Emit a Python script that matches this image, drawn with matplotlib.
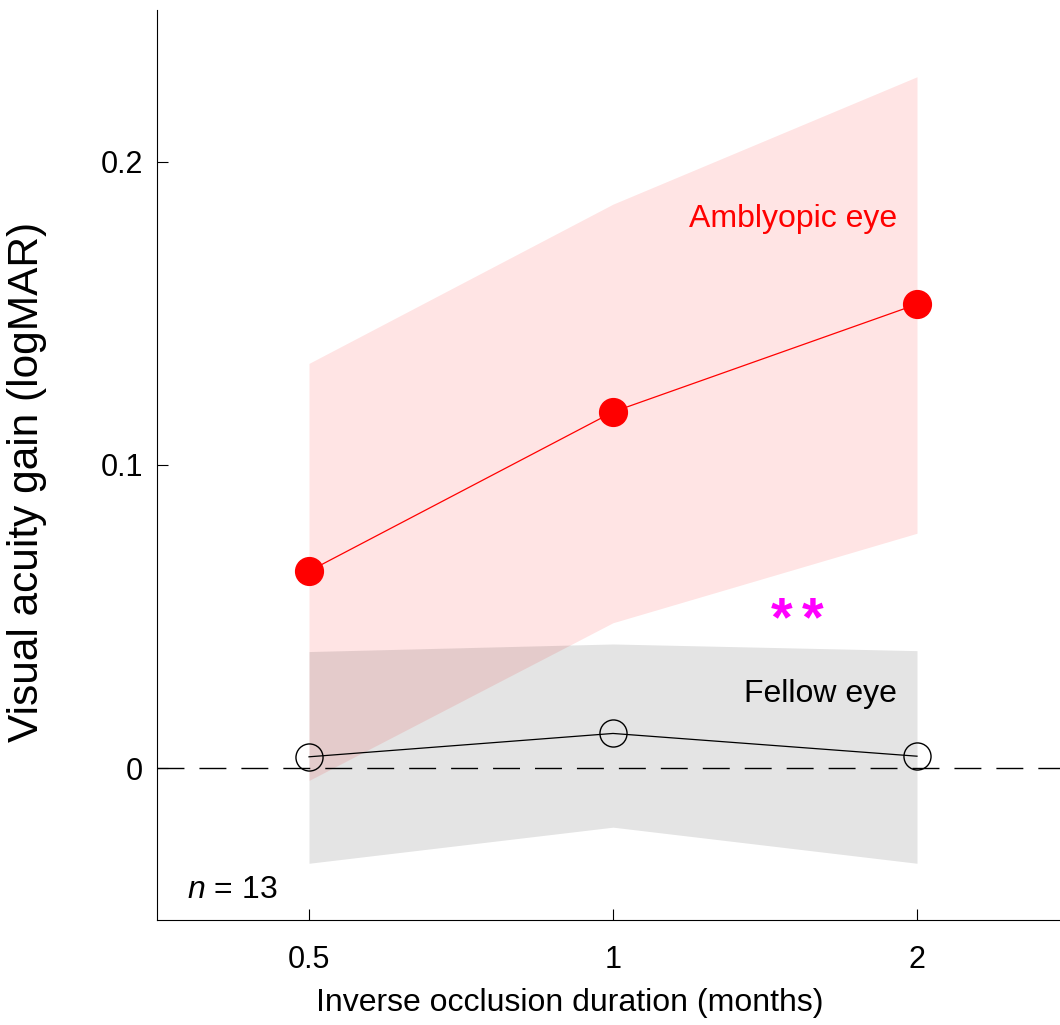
import numpy as np
import matplotlib
matplotlib.use("Agg")
import matplotlib.pyplot as plt

plt.rcParams["font.family"] = ["Liberation Sans", "DejaVu Sans"]
plt.rcParams["mathtext.fontset"] = "custom"
plt.rcParams["mathtext.it"] = "Liberation Sans:italic"
plt.rcParams["mathtext.rm"] = "Liberation Sans"

# data
durations = ["0.5", "1", "2"]
amblyopic_mean = [0.065, 0.1175, 0.153]
amblyopic_upper = [0.1335, 0.186, 0.228]
amblyopic_lower = [-0.004, 0.048, 0.0775]
fellow_mean = [0.0038, 0.0115, 0.004]
fellow_upper = [0.0385, 0.041, 0.0388]
fellow_lower = [-0.0313, -0.0194, -0.0313]

x = np.arange(1, len(durations) + 1)

fig = plt.figure(figsize=(10.6, 10.25), dpi=100)
ax = fig.add_axes([157 / 1060, 1 - 920 / 1025, (1069 - 157) / 1060, (920 - 10) / 1025])

ax.fill_between(x, amblyopic_lower, amblyopic_upper, color="red", alpha=0.105, lw=0)
ax.fill_between(x, fellow_lower, fellow_upper, color="black", alpha=0.105, lw=0)

ax.axhline(0, color="black", lw=1.0, linestyle=(0, (19.4, 10.8)), zorder=1)

ax.plot(x, amblyopic_mean, color="red", lw=0.9, marker="o", ms=20,
        mfc="red", mec="red", zorder=3)
ax.plot(x, fellow_mean, color="black", lw=0.9, marker="o", ms=19.5,
        mfc="none", mec="black", mew=1.0, zorder=3)

ax.text(2.935, 0.181, "Amblyopic eye", color="red", fontsize=23, ha="right", va="center")
ax.text(2.935, 0.0245, "Fellow eye", color="black", fontsize=23, ha="right", va="center")
# significance stars, two glyphs spaced apart
for dx in (-11.2, 11.2):
    ax.annotate("*", xy=(2.607, 0.044), xytext=(dx, 0), textcoords="offset points",
                color="#ff00ff", fontsize=40, fontweight="bold", ha="center", va="baseline")
ax.text(0.6, -0.040, "$n$ = 13", fontsize=23, ha="left", va="center")

ax.set_xlim(0.5, 3.5)
ax.set_ylim(-0.05, 0.25)
ax.set_xticks(x)
ax.set_xticklabels(durations)
ax.set_yticks([0, 0.1, 0.2])
ax.set_yticklabels(["0", "0.1", "0.2"])
ax.tick_params(direction="in", length=8, width=0.8, labelsize=22)
ax.tick_params(axis="x", pad=18)
ax.tick_params(axis="y", pad=10)

ax.spines["top"].set_visible(False)
ax.spines["right"].set_visible(False)
for s in ("left", "bottom"):
    ax.spines[s].set_linewidth(0.8)

ax.set_xlabel("Inverse occlusion duration (months)", fontsize=23)
ax.set_ylabel("Visual acuity gain (logMAR)", fontsize=30.5)
ax.xaxis.set_label_coords((570 - 157) / 912, -(988 - 920) / 910)
ax.yaxis.set_label_coords(-(157 - 47) / 912, (920 - 482) / 910)

fig.savefig("out.png", dpi=100)
